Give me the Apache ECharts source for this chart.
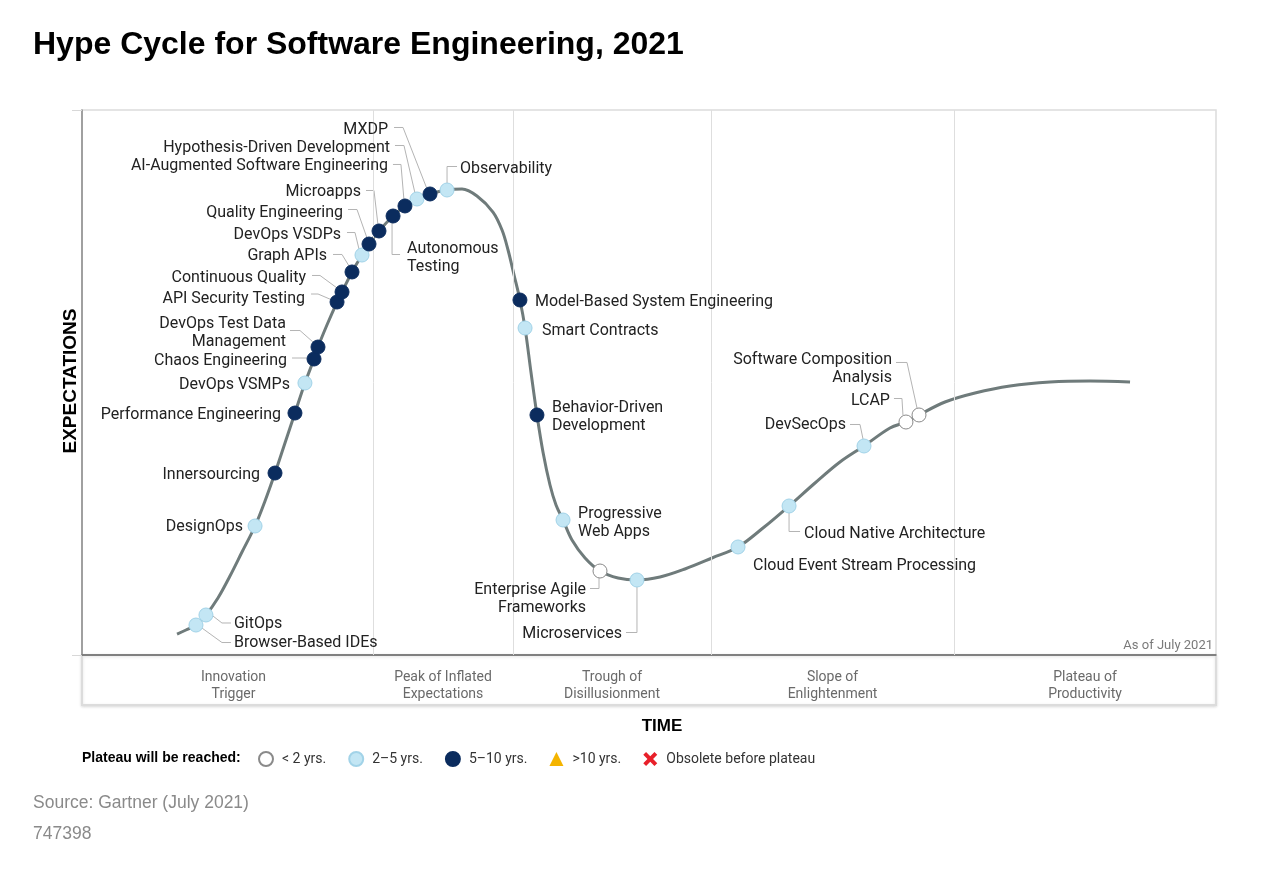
<!DOCTYPE html>
<html>
<head>
<meta charset="utf-8">
<script src="https://cdn.jsdelivr.net/npm/echarts@6/dist/echarts.min.js"></script>
<style>
html,body{margin:0;padding:0;background:#fff;}
#chart{width:1280px;height:871px;}
</style>
</head>
<body>
<div id="chart"></div>
<script>
// ---------------- DATA ----------------
// Hype curve (time 0-100, expectations 0-100)
const curveX = [8.38, 9.17, 10.05, 10.93, 11.99, 13.05, 14.11, 15.26, 16.14, 17.02, 17.90, 18.78, 19.66, 20.46, 20.81, 21.60, 22.49, 22.93, 23.81, 24.69, 25.31, 26.19, 27.43, 28.48, 29.54, 30.69, 32.19, 33.51, 34.83, 36.24, 37.04, 37.57, 38.10, 38.62, 39.07, 39.59, 40.12, 40.65, 41.27, 41.80, 42.42, 43.21, 44.36, 45.68, 47.27, 48.94, 50.97, 53.17, 55.56, 57.85, 60.05, 62.35, 64.64, 66.84, 68.96, 71.25, 72.66, 73.81, 76.10, 78.75, 81.83, 85.36, 88.89, 92.42];
const curveY = [3.85, 4.59, 5.50, 7.34, 10.46, 14.50, 18.90, 23.67, 28.26, 33.39, 38.90, 44.40, 49.91, 54.31, 56.51, 60.55, 64.77, 66.61, 70.28, 73.39, 75.41, 77.80, 80.55, 82.39, 83.67, 84.59, 85.32, 85.50, 84.22, 81.28, 77.98, 74.31, 69.72, 65.14, 60.00, 51.93, 44.04, 37.25, 31.19, 27.52, 24.77, 21.10, 17.80, 15.41, 14.13, 13.76, 14.31, 15.78, 17.80, 19.82, 23.30, 27.34, 31.56, 35.41, 38.35, 41.65, 42.75, 44.04, 46.42, 48.07, 49.36, 50.09, 50.28, 50.09];

// Technologies on the curve
const techNames = [
  'Browser-Based IDEs', 'GitOps', 'DesignOps', 'Innersourcing', 'Performance Engineering',
  'DevOps VSMPs', 'Chaos Engineering', 'DevOps Test Data\nManagement', 'API Security Testing', 'Continuous Quality',
  'Graph APIs', 'DevOps VSDPs', 'Quality Engineering', 'Microapps', 'Autonomous\nTesting',
  'AI-Augmented Software Engineering', 'Hypothesis-Driven Development', 'MXDP', 'Observability', 'Model-Based System Engineering',
  'Smart Contracts', 'Behavior-Driven\nDevelopment', 'Progressive\nWeb Apps', 'Enterprise Agile\nFrameworks', 'Microservices',
  'Cloud Event Stream Processing', 'Cloud Native Architecture', 'DevSecOps', 'LCAP', 'Software Composition\nAnalysis'
];
const techX = [10.05, 10.93, 15.26, 17.02, 18.78, 19.66, 20.46, 20.81, 22.49, 22.93, 23.81, 24.69, 25.31, 26.19, 27.43, 28.48, 29.54, 30.69, 32.19, 38.62, 39.07, 40.12, 42.42, 45.68, 48.94, 57.85, 62.35, 68.96, 72.66, 73.81];
const techY = [5.50, 7.34, 23.67, 33.39, 44.40, 49.91, 54.31, 56.51, 64.77, 66.61, 70.28, 73.39, 75.41, 77.80, 80.55, 82.39, 83.67, 84.59, 85.32, 65.14, 60.00, 44.04, 24.77, 15.41, 13.76, 19.82, 27.34, 38.35, 42.75, 44.04];
// years to plateau: 0 = <2, 1 = 2-5, 2 = 5-10
const techPlateau = [1, 1, 1, 2, 2, 1, 2, 2, 2, 2, 2, 1, 2, 2, 2, 2, 1, 2, 1, 2, 1, 2, 1, 0, 1, 1, 1, 1, 0, 0];

const plateauNames = ['< 2 yrs.', '2\u20135 yrs.', '5\u201310 yrs.', '>10 yrs.', 'Obsolete before plateau'];

// Phases
const phaseNames = ['Innovation\nTrigger', 'Peak of Inflated\nExpectations', 'Trough of\nDisillusionment', 'Slope of\nEnlightenment', 'Plateau of\nProductivity'];
const phaseBounds = [0, 25.66, 38.01, 55.47, 76.90, 100];

// ---------------- LABEL LAYOUT (style only) ----------------
// [align, dx, dy, leader offsets (px, relative to marker)]
const labelSpec = [
  ['left', 38, 16, [[6,3],[26,16],[35,16]]],
  ['left', 28, 8, [[7,1],[16,8],[25,8]]],
  ['right', -12, 0, null],
  ['right', -15, 0, null],
  ['right', -14, 0, null],
  ['right', -15, 1, null],
  ['right', -27, 0, [[-22,-1],[-7,-1]]],
  ['right', -32, -16, [[-28,-18],[-18,-18],[-5,-5]]],
  ['right', -32, -5, [[-26,-8],[-19,-8],[-5,-2]]],
  ['right', -36, -15, [[-30,-18],[-22,-18],[-5,-4]]],
  ['right', -25, -17, [[-19,-19],[-10,-19],[-3,-6]]],
  ['right', -21, -22, [[-15,-24],[-7,-24],[-3,-6]]],
  ['right', -26, -33, [[-21,-36],[-12,-36],[-2,-6]]],
  ['right', -18, -40, [[-13,-42],[-5,-42],[-1,-6]]],
  ['left', 14, 40, [[7,37],[-1,37],[-1,6]]],
  ['right', -17, -41, [[-12,-43],[-4,-43],[-1,-6]]],
  ['right', -27, -52, [[-22,-55],[-13,-55],[-2,-6]]],
  ['right', -42, -65, [[-36,-68],[-27,-68],[-3,-5]]],
  ['left', 13, -23, [[10,-25],[0,-25],[0,-7]]],
  ['left', 15, 1, null],
  ['left', 17, 1, null],
  ['left', 15, 1, null],
  ['left', 15, 1, null],
  ['right', -14, 26, [[-10,16],[-1,16],[-1,7]]],
  ['right', -15, 52, [[-11,51],[0,51],[0,7]]],
  ['left', 15, 18, null],
  ['left', 15, 27, [[0,7],[0,24],[11,24]]],
  ['right', -18, -22, [[-14,-23],[-4,-23],[-1,-7]]],
  ['right', -16, -23, [[-12,-25],[-4,-25],[-3,-7]]],
  ['right', -27, -47, [[-23,-54],[-12,-54],[-2,-7]]]
];
const LABEL_SHIFT_Y = 1.5;

const plateauStyle = [
  {color: '#ffffff', borderColor: '#8a8a8a', borderWidth: 1, symbol: 'circle'},
  {color: '#c3e6f4', borderColor: '#a2d3e8', borderWidth: 1, symbol: 'circle'},
  {color: '#0b2c5e', borderColor: '#0b2c5e', borderWidth: 1, symbol: 'circle'},
  {color: '#f4b400', borderColor: '#f4b400', borderWidth: 0, symbol: 'triangle'},
  {color: '#e8202a', borderColor: '#e8202a', borderWidth: 0, symbol: 'path://M2,0 L5,3 L8,0 L10,2 L7,5 L10,8 L8,10 L5,7 L2,10 L0,8 L3,5 L0,2 Z'}
];

const FONT = 'Roboto, "Noto Sans", sans-serif';
const SANS = '"Liberation Sans", Arial, sans-serif';

// ---------------- BUILD ----------------
const curveData = curveX.map((x, i) => [x, curveY[i]]);

function itemFor(i) {
  const s = labelSpec[i];
  return {
    name: techNames[i],
    value: [techX[i], techY[i]],
    label: {
      show: true,
      position: 'inside',
      align: s[0],
      verticalAlign: 'middle',
      offset: [s[1], s[2] + LABEL_SHIFT_Y],
      formatter: '{b}',
      color: '#222',
      fontSize: 16,
      lineHeight: 18,
      fontFamily: FONT,
      textBorderWidth: 0
    }
  };
}

const scatterSeries = plateauNames.map((nm, k) => {
  const st = plateauStyle[k];
  const data = [];
  techNames.forEach((_, i) => { if (techPlateau[i] === k) data.push(itemFor(i)); });
  return {
    name: nm,
    type: 'scatter',
    symbol: st.symbol,
    symbolSize: 14,
    z: 5,
    itemStyle: {color: st.color, borderColor: st.borderColor, borderWidth: st.borderWidth, opacity: 1},
    emphasis: {disabled: true},
    data: data
  };
});

const leaderData = [];
techNames.forEach((_, i) => { if (labelSpec[i][3]) leaderData.push([techX[i], techY[i], i]); });

const chart = echarts.init(document.getElementById('chart'), null, {renderer: 'canvas'});

const option = {
  animation: false,
  backgroundColor: '#ffffff',
  title: {
    text: 'Hype Cycle for Software Engineering, 2021',
    left: 33, top: 29, padding: 0,
    textStyle: {fontSize: 32, fontWeight: 'bold', color: '#000', fontFamily: SANS}
  },
  grid: {left: 82, right: 64, top: 110, bottom: 216, show: true, borderColor: '#dcdcdc', borderWidth: 1.5, backgroundColor: 'transparent'},
  xAxis: {
    type: 'value', min: 0, max: 100,
    axisLine: {show: true, onZero: false, lineStyle: {color: '#7a7a7a', width: 1.5}},
    axisTick: {show: false}, axisLabel: {show: false}, splitLine: {show: false}
  },
  yAxis: [
    {
      type: 'value', min: 0, max: 100,
      axisLine: {show: true, onZero: false, lineStyle: {color: '#8a8a8a', width: 1.5}},
      axisTick: {show: false}, axisLabel: {show: false}, splitLine: {show: false}
    },
    {
      type: 'value', min: 0, max: 100, interval: 100, position: 'left', offset: 10,
      axisLine: {show: false},
      axisTick: {show: true, length: 10, lineStyle: {color: '#d8d8d8', width: 1}},
      axisLabel: {show: false}, splitLine: {show: false}
    }
  ],
  legend: {
    data: plateauNames,
    left: 253, top: 746,
    itemWidth: 14, itemHeight: 14, itemGap: 22,
    textStyle: {fontSize: 14, color: '#333', fontFamily: FONT, padding: [0, 0, 0, 4]},
    selectedMode: false
  },
  series: [
    {
      type: 'line',
      data: curveData,
      smooth: 0.35,
      showSymbol: false,
      z: 2,
      lineStyle: {color: '#6f7b7b', width: 3},
      silent: true,
      markLine: {
        silent: true,
        symbol: ['none', 'none'],
        label: {show: false},
        lineStyle: {color: '#dedede', width: 1, type: 'solid'},
        data: phaseBounds.slice(1, -1).map(b => ({xAxis: b}))
      }
    },
    {
      type: 'custom',
      z: 3,
      clip: false,
      silent: true,
      data: leaderData,
      encode: {x: 0, y: 1},
      renderItem: function (params, api) {
        const i = api.value(2);
        const p = api.coord([api.value(0), api.value(1)]);
        const pts = labelSpec[i][3].map(o => [p[0] + o[0], p[1] + o[1] + (Math.abs(o[1]) > 8 ? LABEL_SHIFT_Y : 0)]);
        return {
          type: 'polyline',
          shape: {points: pts},
          style: {stroke: '#b4b4b4', lineWidth: 1, fill: null}
        };
      }
    }
  ].concat(scatterSeries)
};

chart.setOption(option);

// Phase band, phase labels and free texts
function drawExtras() {
  const p0 = chart.convertToPixel({gridIndex: 0}, [0, 0]);
  const p1 = chart.convertToPixel({gridIndex: 0}, [100, 100]);
  const bandH = 50;
  const g = [];
  g.push({
    type: 'rect', z: 0,
    shape: {x: p0[0], y: p0[1], width: p1[0] - p0[0], height: bandH},
    style: {fill: '#fff', stroke: '#dcdcdc', lineWidth: 2, shadowBlur: 3, shadowColor: 'rgba(0,0,0,0.12)', shadowOffsetY: 1}
  });
  g.push({
    type: 'line', z: 1,
    shape: {x1: p0[0], y1: p0[1], x2: p1[0], y2: p0[1]},
    style: {stroke: '#7a7a7a', lineWidth: 1.5}
  });
  phaseNames.forEach((nm, k) => {
    const xa = chart.convertToPixel({gridIndex: 0}, [(phaseBounds[k] + phaseBounds[k + 1]) / 2, 0]);
    g.push({
      type: 'text', z: 2,
      x: xa[0] + (k === 0 ? 6 : 0), y: p0[1] + bandH / 2 + 6,
      style: {text: nm, align: 'center', verticalAlign: 'middle', font: '14px ' + FONT, fill: '#6a6a6a', lineHeight: 17}
    });
  });
  g.push({
    type: 'text', z: 2, x: p1[0] - 3, y: p0[1] - 9,
    style: {text: 'As of July 2021', align: 'right', verticalAlign: 'middle', font: '13px ' + FONT, fill: '#7a7a7a'}
  });
  g.push({
    type: 'text', z: 2, x: 71, y: 381, rotation: Math.PI / 2,
    style: {text: 'EXPECTATIONS', align: 'center', verticalAlign: 'middle', font: 'bold 19px ' + SANS, fill: '#000'}
  });
  g.push({
    type: 'text', z: 2, x: 662, y: 726,
    style: {text: 'TIME', align: 'center', verticalAlign: 'middle', font: 'bold 17px ' + SANS, fill: '#000'}
  });
  g.push({
    type: 'text', z: 2, x: 82, y: 758,
    style: {text: 'Plateau will be reached:', align: 'left', verticalAlign: 'middle', font: 'bold 14px ' + SANS, fill: '#000'}
  });
  g.push({
    type: 'text', z: 2, x: 33, y: 803,
    style: {text: 'Source: Gartner (July 2021)', align: 'left', verticalAlign: 'middle', font: '17.5px ' + SANS, fill: '#8a8a8a'}
  });
  g.push({
    type: 'text', z: 2, x: 33, y: 834,
    style: {text: '747398', align: 'left', verticalAlign: 'middle', font: '17.5px ' + SANS, fill: '#8a8a8a'}
  });
  chart.setOption({graphic: {elements: g}});
}
drawExtras();
</script>
</body>
</html>
